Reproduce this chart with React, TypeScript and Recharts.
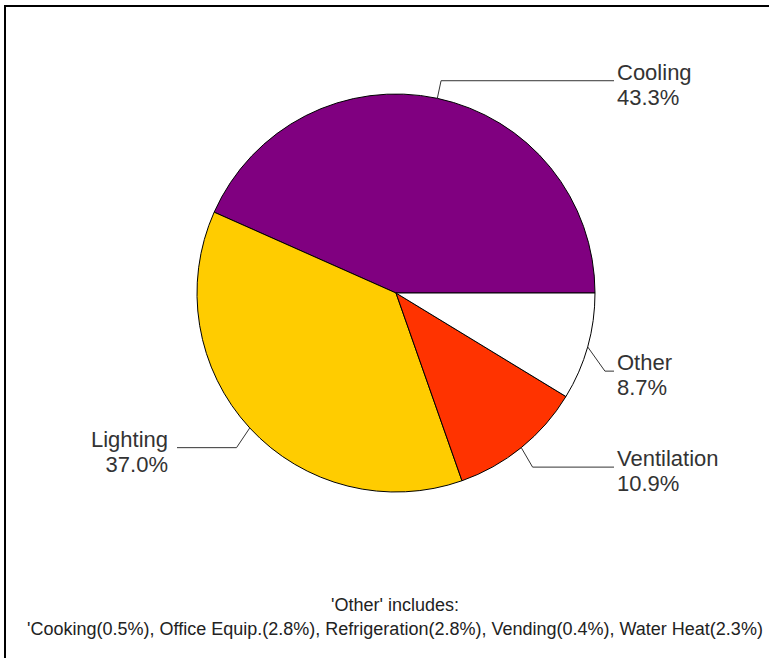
import React from 'react';
import { PieChart, Pie, Cell } from 'recharts';

// end-use shares (%)
const NAMES = ['Cooling', 'Lighting', 'Ventilation', 'Other'];
const SHARES = [43.3, 37.0, 10.9, 8.7];
const COLORS = ['#800080', '#FFCC00', '#FF3300', '#FFFFFF'];

// what "Other" is made of
const OTHER_ITEMS = ['Cooking', 'Office Equip.', 'Refrigeration', 'Vending', 'Water Heat'];
const OTHER_SHARES = [0.5, 2.8, 2.8, 0.4, 2.3];

// vertical nudge of each leader elbow, so labels sit where the original put them
const LABEL_NUDGE: Record<string, number> = { Cooling: 0, Lighting: 7.5, Ventilation: 5.5, Other: 19.5 };

const FONT = '"Liberation Sans", Arial, sans-serif';

const data = NAMES.map((name, i) => ({ name, value: SHARES[i] }));

const footer =
  "'" + OTHER_ITEMS.map((n, i) => `${n}(${OTHER_SHARES[i].toFixed(1)}%)`).join(', ');

const renderLabel = (p: any) => {
  const { cx, cy, midAngle, outerRadius, name, value } = p;
  const rad = Math.PI / 180;
  const cos = Math.cos(-midAngle * rad);
  const sin = Math.sin(-midAngle * rad);
  const sx = cx + outerRadius * cos;
  const sy = cy + outerRadius * sin;
  const ex = cx + (outerRadius + 18) * cos;
  const ey = cy + (outerRadius + 18) * sin + (LABEL_NUDGE[name] || 0);
  const right = cos >= 0;
  const hx = right ? cx + outerRadius + 19 : cx - outerRadius - 20;
  const tx = right ? hx + 3 : hx - 9;
  return (
    <g>
      <path d={`M${sx},${sy}L${ex},${ey}L${hx},${ey}`} stroke="#333" strokeWidth={1} fill="none" />
      <text x={tx} y={ey} textAnchor={right ? 'start' : 'end'} fill="#333" fontSize={22} fontFamily={FONT}>
        <tspan x={tx} dy={-1}>{name}</tspan>
        <tspan x={tx} dy={25}>{`${Number(value).toFixed(1)}%`}</tspan>
      </text>
    </g>
  );
};

export default function App() {
  return (
    <div style={{ position: 'fixed', left: 0, top: 0, width: 769, height: 658, background: '#fff', overflow: 'hidden' }}>
      <PieChart width={769} height={658} margin={{ top: 0, right: 0, bottom: 0, left: 0 }}>
        <Pie
          data={data}
          dataKey="value"
          nameKey="name"
          cx={396}
          cy={293}
          outerRadius={199}
          startAngle={0}
          endAngle={360}
          stroke="#000"
          strokeWidth={1}
          label={renderLabel}
          labelLine={false}
          isAnimationActive={false}
        >
          {data.map((d, i) => (
            <Cell key={d.name} fill={COLORS[i]} />
          ))}
        </Pie>
      </PieChart>
      <svg width={769} height={658} style={{ position: 'absolute', left: 0, top: 0, pointerEvents: 'none' }}>
        <path d="M5,700V6H800" stroke="#000" strokeWidth={2} fill="none" />
        <text x={395} y={611} textAnchor="middle" fontSize={18} fontFamily={FONT} fill="#222">
          'Other' includes:
        </text>
        <text x={395} y={635} textAnchor="middle" fontSize={18} fontFamily={FONT} fill="#222">
          {footer}
        </text>
      </svg>
    </div>
  );
}
